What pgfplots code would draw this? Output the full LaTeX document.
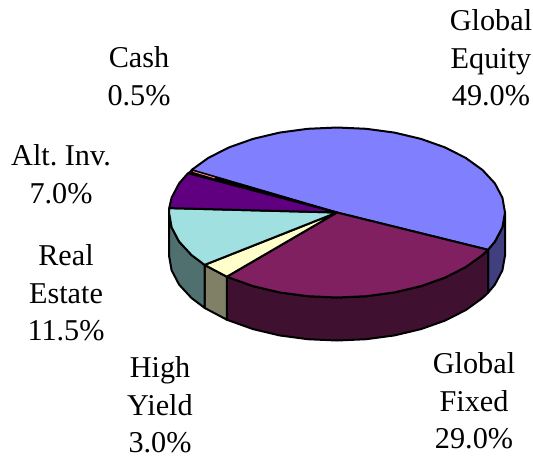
\documentclass[border=0pt]{standalone}
\usepackage{fontspec}
\setmainfont{Liberation Serif}
\usepackage{pgfplots}
\pgfplotsset{compat=1.18}
\definecolor{cEq}{HTML}{8080FF}\definecolor{cEqS}{HTML}{404080}
\definecolor{cFi}{HTML}{802060}\definecolor{cFiS}{HTML}{401030}
\definecolor{cHy}{HTML}{FFFFCC}\definecolor{cHyS}{HTML}{808066}
\definecolor{cRe}{HTML}{A0E0E0}\definecolor{cReS}{HTML}{507070}
\definecolor{cAl}{HTML}{600080}\definecolor{cCa}{HTML}{FF8080}
\tikzset{lab/.style={align=center,inner sep=0pt,scale=1.2,font=\fontsize{25.2}{31.25}\selectfont}}
\begin{document}
\begin{tikzpicture}
\begin{axis}[
  width=533pt,height=459pt,scale only axis,
  xmin=0,xmax=533,ymin=0,ymax=459,y dir=reverse,
  hide axis,clip=false,
  every axis plot/.append style={draw=black,line width=2pt,line join=round,no markers}
]
% Side walls (shares: equity 49.0, fixed 29.0, high yield 3.0, real estate 11.5, alt. inv. 7.0, cash 0.5)
\addplot[fill=cEqS] coordinates {(505,212.5)(502.4,227.3)(494.9,241.6)(488,249.8)(488,292.8)(494.9,284.6)(502.4,270.3)(505,255.5)} --cycle;
\addplot[fill=cFiS] coordinates {(488,249.8)(482.5,255)(465.7,267.1)(445,277.6)(421,286.1)(394.5,292.4)(366.2,296.2)(337,297.5)(307.8,296.2)(279.5,292.4)(253,286.1)(226.8,276.7)(226.8,319.7)(253,329.1)(279.5,335.4)(307.8,339.2)(337,340.5)(366.2,339.2)(394.5,335.4)(421,329.1)(445,320.6)(465.7,310.1)(482.5,298)(488,292.8)} --cycle;
\addplot[fill=cHyS] coordinates {(226.8,276.7)(204.6,264.9)(204.6,307.9)(226.8,319.7)} --cycle;
\addplot[fill=cReS] coordinates {(204.6,264.9)(191.5,255)(179.1,241.6)(171.6,227.3)(169,212.5)(169,255.5)(171.6,270.3)(179.1,284.6)(191.5,298)(204.6,307.9)} --cycle;
% Top faces
\addplot[fill=cEq] coordinates {(337,212.5)(191.5,170)(208.3,157.9)(229,147.4)(253,138.9)(279.5,132.6)(307.8,128.8)(337,127.5)(366.2,128.8)(394.5,132.6)(421,138.9)(445,147.4)(465.7,157.9)(482.5,170)(494.9,183.4)(502.4,197.7)(505,212.5)(502.4,227.3)(494.9,241.6)(488,249.8)} --cycle;
\addplot[fill=cFi] coordinates {(337,212.5)(488,249.8)(482.5,255)(465.7,267.1)(445,277.6)(421,286.1)(394.5,292.4)(366.2,296.2)(337,297.5)(307.8,296.2)(279.5,292.4)(253,286.1)(226.8,276.7)} --cycle;
\addplot[fill=cHy] coordinates {(337,212.5)(226.8,276.7)(204.6,264.9)} --cycle;
\addplot[fill=cRe] coordinates {(337,212.5)(204.6,264.9)(191.5,255)(179.1,241.6)(171.6,227.3)(169,212.5)(169.2,208.1)} --cycle;
\addplot[fill=cAl] coordinates {(337,212.5)(169.2,208.1)(171.6,197.7)(179.1,183.4)(188,173.2)} --cycle;
\addplot[fill=black,line width=1.2pt] coordinates {(337,212.5)(188,173.2)(191.5,170)} --cycle;
\addplot[draw=cCa,line width=0.8pt] coordinates {(193,171.5)(215,178)};
% Labels
\node[lab] at (axis cs:491,58) {Global\\Equity\\49.0\%};
\node[lab] at (axis cs:139,76) {Cash\\0.5\%};
\node[lab] at (axis cs:61,174) {Alt.\ Inv.\\7.0\%};
\node[lab] at (axis cs:66,293) {Real\\Estate\\11.5\%};
\node[lab] at (axis cs:160,405) {High\\Yield\\3.0\%};
\node[lab] at (axis cs:474,401) {Global\\Fixed\\29.0\%};
\end{axis}
\path (current axis.south west) rectangle (current axis.north east);
\end{tikzpicture}
\end{document}
